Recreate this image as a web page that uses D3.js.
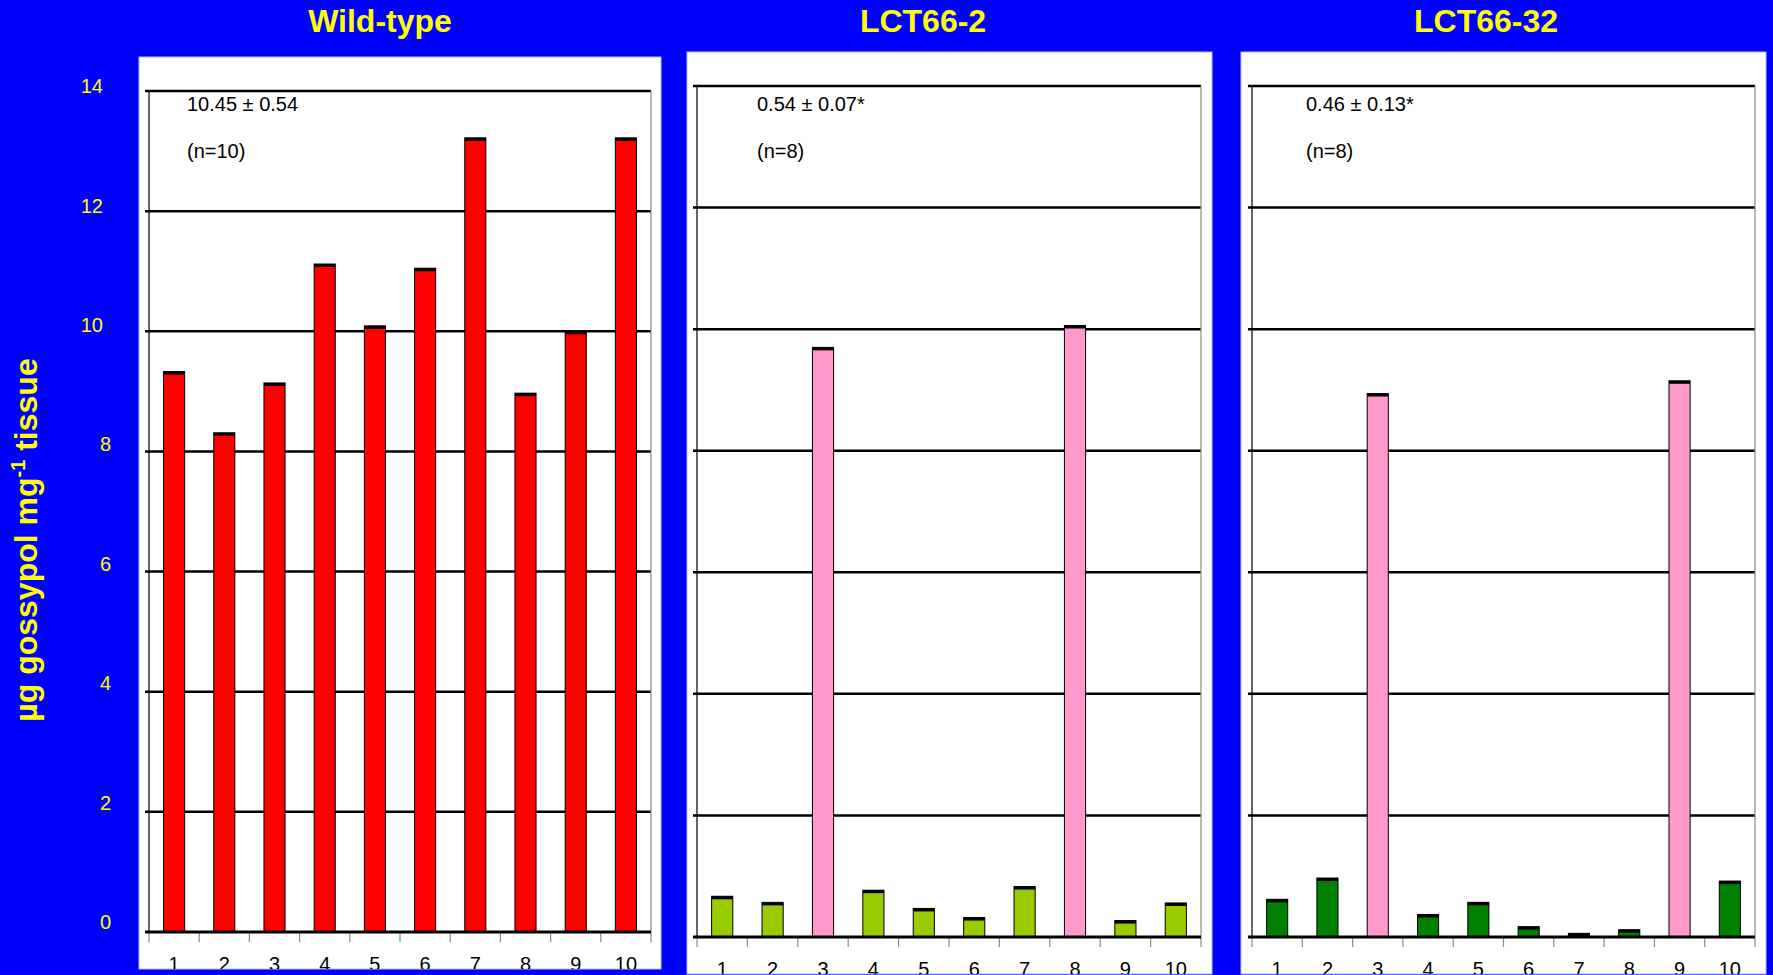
<!DOCTYPE html>
<html>
<head>
<meta charset="utf-8">
<script src="https://cdn.jsdelivr.net/npm/d3@7/dist/d3.min.js"></script>
<style>
  html, body { margin: 0; padding: 0; background: #0000ff; }
  svg { display: block; }
</style>
</head>
<body>
<svg id="chart" width="1773" height="975"></svg>
<script>
// ---- data ----
const categories = ["1", "2", "3", "4", "5", "6", "7", "8", "9", "10"];
const yTicks = [0, 2, 4, 6, 8, 10, 12, 14];
const panelTitles = ["Wild-type", "LCT66-2", "LCT66-32"];
const meanLabels = ["10.45 \u00B1 0.54", "0.54 \u00B1 0.07*", "0.46 \u00B1 0.13*"];
const nLabels = ["(n=10)", "(n=8)", "(n=8)"];

// gossypol content per plant (µg per mg tissue)
const wildTypeValues = [9.33, 8.31, 9.14, 11.12, 10.09, 11.05, 13.22, 8.97, 10.0, 13.22];
const lct662Values   = [0.67, 0.57, 9.70, 0.77, 0.47, 0.32, 0.83, 10.06, 0.27, 0.56];
const lct6632Values  = [0.62, 0.97, 8.94, 0.37, 0.57, 0.17, 0.06, 0.12, 9.15, 0.92];

// plants that did not carry the transgene (not counted in the means)
const wildTypeEscapes = [];
const lct662Escapes   = ["3", "8"];
const lct6632Escapes  = ["3", "9"];

// ---- layout ----
const FONT = "'Liberation Sans', Arial, Helvetica, sans-serif";
const panels = [
  { values: wildTypeValues, escapes: wildTypeEscapes, fill: "#ff0000",
    box: [139, 57, 661, 969], plotX: [149, 651], plotY: [932, 91], textX: 187, titleX: 380 },
  { values: lct662Values, escapes: lct662Escapes, fill: "#99cc00",
    box: [687, 52, 1212, 974], plotX: [697, 1201], plotY: [937, 86], textX: 757, titleX: 923 },
  { values: lct6632Values, escapes: lct6632Escapes, fill: "#008000",
    box: [1241, 52, 1766, 974], plotX: [1252, 1755], plotY: [937, 86], textX: 1306, titleX: 1486 }
];
const ESCAPE_FILL = "#ff99cc";

const svg = d3.select("#chart");
svg.append("rect").attr("width", 1773).attr("height", 975).attr("fill", "#0000ff");

const defs = svg.append("defs");

panels.forEach((p, i) => {
  const [bx0, by0, bx1, by1] = p.box;

  defs.append("clipPath").attr("id", "clip" + i)
    .append("rect").attr("x", bx0).attr("y", by0)
    .attr("width", bx1 - bx0).attr("height", by1 - by0);

  // panel title
  svg.append("text")
    .attr("x", p.titleX).attr("y", 32)
    .attr("text-anchor", "middle")
    .attr("font-family", FONT).attr("font-weight", "bold").attr("font-size", 32)
    .attr("fill", "#ffff00")
    .text(panelTitles[i]);

  // white panel background
  svg.append("rect")
    .attr("x", bx0).attr("y", by0)
    .attr("width", bx1 - bx0).attr("height", by1 - by0)
    .attr("fill", "#ffffff")
    .attr("stroke", "#b8b8ff").attr("stroke-width", 1);

  const g = svg.append("g").attr("clip-path", `url(#clip${i})`);

  const x = d3.scaleBand().domain(categories).range(p.plotX)
    .paddingInner(0.58).paddingOuter(0.29);
  const y = d3.scaleLinear().domain([0, 14]).range(p.plotY);
  const step = x.step();
  const edge = c => x(c) + x.bandwidth() / 2 - step / 2;

  // horizontal grid lines
  g.selectAll(".grid").data(yTicks.filter(t => t > 0)).join("line")
    .attr("x1", p.plotX[0] - 4).attr("x2", p.plotX[1])
    .attr("y1", d => y(d)).attr("y2", d => y(d))
    .attr("stroke", "#000").attr("stroke-width", 2.5);

  // right border of plot area
  g.append("line")
    .attr("x1", p.plotX[1]).attr("x2", p.plotX[1])
    .attr("y1", y(14)).attr("y2", y(0))
    .attr("stroke", "#8a8a8a").attr("stroke-width", 1.2);

  // category tick marks
  const tickPos = categories.map(edge).concat([edge(categories[categories.length - 1]) + step]);
  g.selectAll(".xtick").data(tickPos).join("line")
    .attr("x1", d => d).attr("x2", d => d)
    .attr("y1", y(0)).attr("y2", y(0) + 10)
    .attr("stroke", "#8a8a8a").attr("stroke-width", 1.2);

  // bars
  const rows = categories.map((c, k) => ({ c, v: p.values[k], escape: p.escapes.includes(c) }));
  g.selectAll(".bar").data(rows).join("rect")
    .attr("x", d => x(d.c)).attr("y", d => y(d.v))
    .attr("width", x.bandwidth()).attr("height", d => y(0) - y(d.v))
    .attr("fill", d => d.escape ? ESCAPE_FILL : p.fill)
    .attr("stroke", "#000").attr("stroke-width", 1);

  // dark cap on each bar top
  g.selectAll(".cap").data(rows).join("rect")
    .attr("x", d => x(d.c)).attr("y", d => y(d.v))
    .attr("width", x.bandwidth())
    .attr("height", d => Math.min(3, y(0) - y(d.v)))
    .attr("fill", "#000");

  // left axis line
  g.append("line")
    .attr("x1", p.plotX[0]).attr("x2", p.plotX[0])
    .attr("y1", y(14)).attr("y2", y(0))
    .attr("stroke", "#000").attr("stroke-width", 1.2);

  // baseline
  g.append("line")
    .attr("x1", p.plotX[0] - 4).attr("x2", p.plotX[1])
    .attr("y1", y(0)).attr("y2", y(0))
    .attr("stroke", "#000").attr("stroke-width", 3);

  // category labels (the lower edge of the panel trims them)
  g.selectAll(".xlab").data(categories).join("text")
    .attr("x", d => x(d) + x.bandwidth() / 2)
    .attr("y", y(0) + 39)
    .attr("text-anchor", "middle")
    .attr("font-family", FONT).attr("font-size", 20)
    .attr("fill", "#000")
    .text(d => d);

  // mean and sample size
  g.append("text")
    .attr("x", p.textX).attr("y", 111)
    .attr("font-family", FONT).attr("font-size", 20).attr("fill", "#000")
    .text(meanLabels[i]);
  g.append("text")
    .attr("x", p.textX).attr("y", 158)
    .attr("font-family", FONT).attr("font-size", 20).attr("fill", "#000")
    .text(nLabels[i]);
});

// shared y tick labels on the left
const yLabel = d3.scaleLinear().domain([0, 14]).range([922, 86]);
svg.selectAll(".ylab").data(yTicks).join("text")
  .attr("x", d => d >= 10 ? 103 : 111)
  .attr("y", d => yLabel(d))
  .attr("dy", "0.36em")
  .attr("text-anchor", "end")
  .attr("font-family", FONT).attr("font-size", 20)
  .attr("fill", "#ffff00")
  .text(d => d);

// y axis title
const yTitle = svg.append("text")
  .attr("transform", "translate(37,540) rotate(-90)")
  .attr("text-anchor", "middle")
  .attr("font-family", FONT).attr("font-weight", "bold").attr("font-size", 32)
  .attr("fill", "#ffff00");
yTitle.append("tspan").text("\u00B5g gossypol mg");
yTitle.append("tspan").attr("dy", -12).attr("font-size", 20).text("-1");
yTitle.append("tspan").attr("dy", 12).text(" tissue");
</script>
</body>
</html>
